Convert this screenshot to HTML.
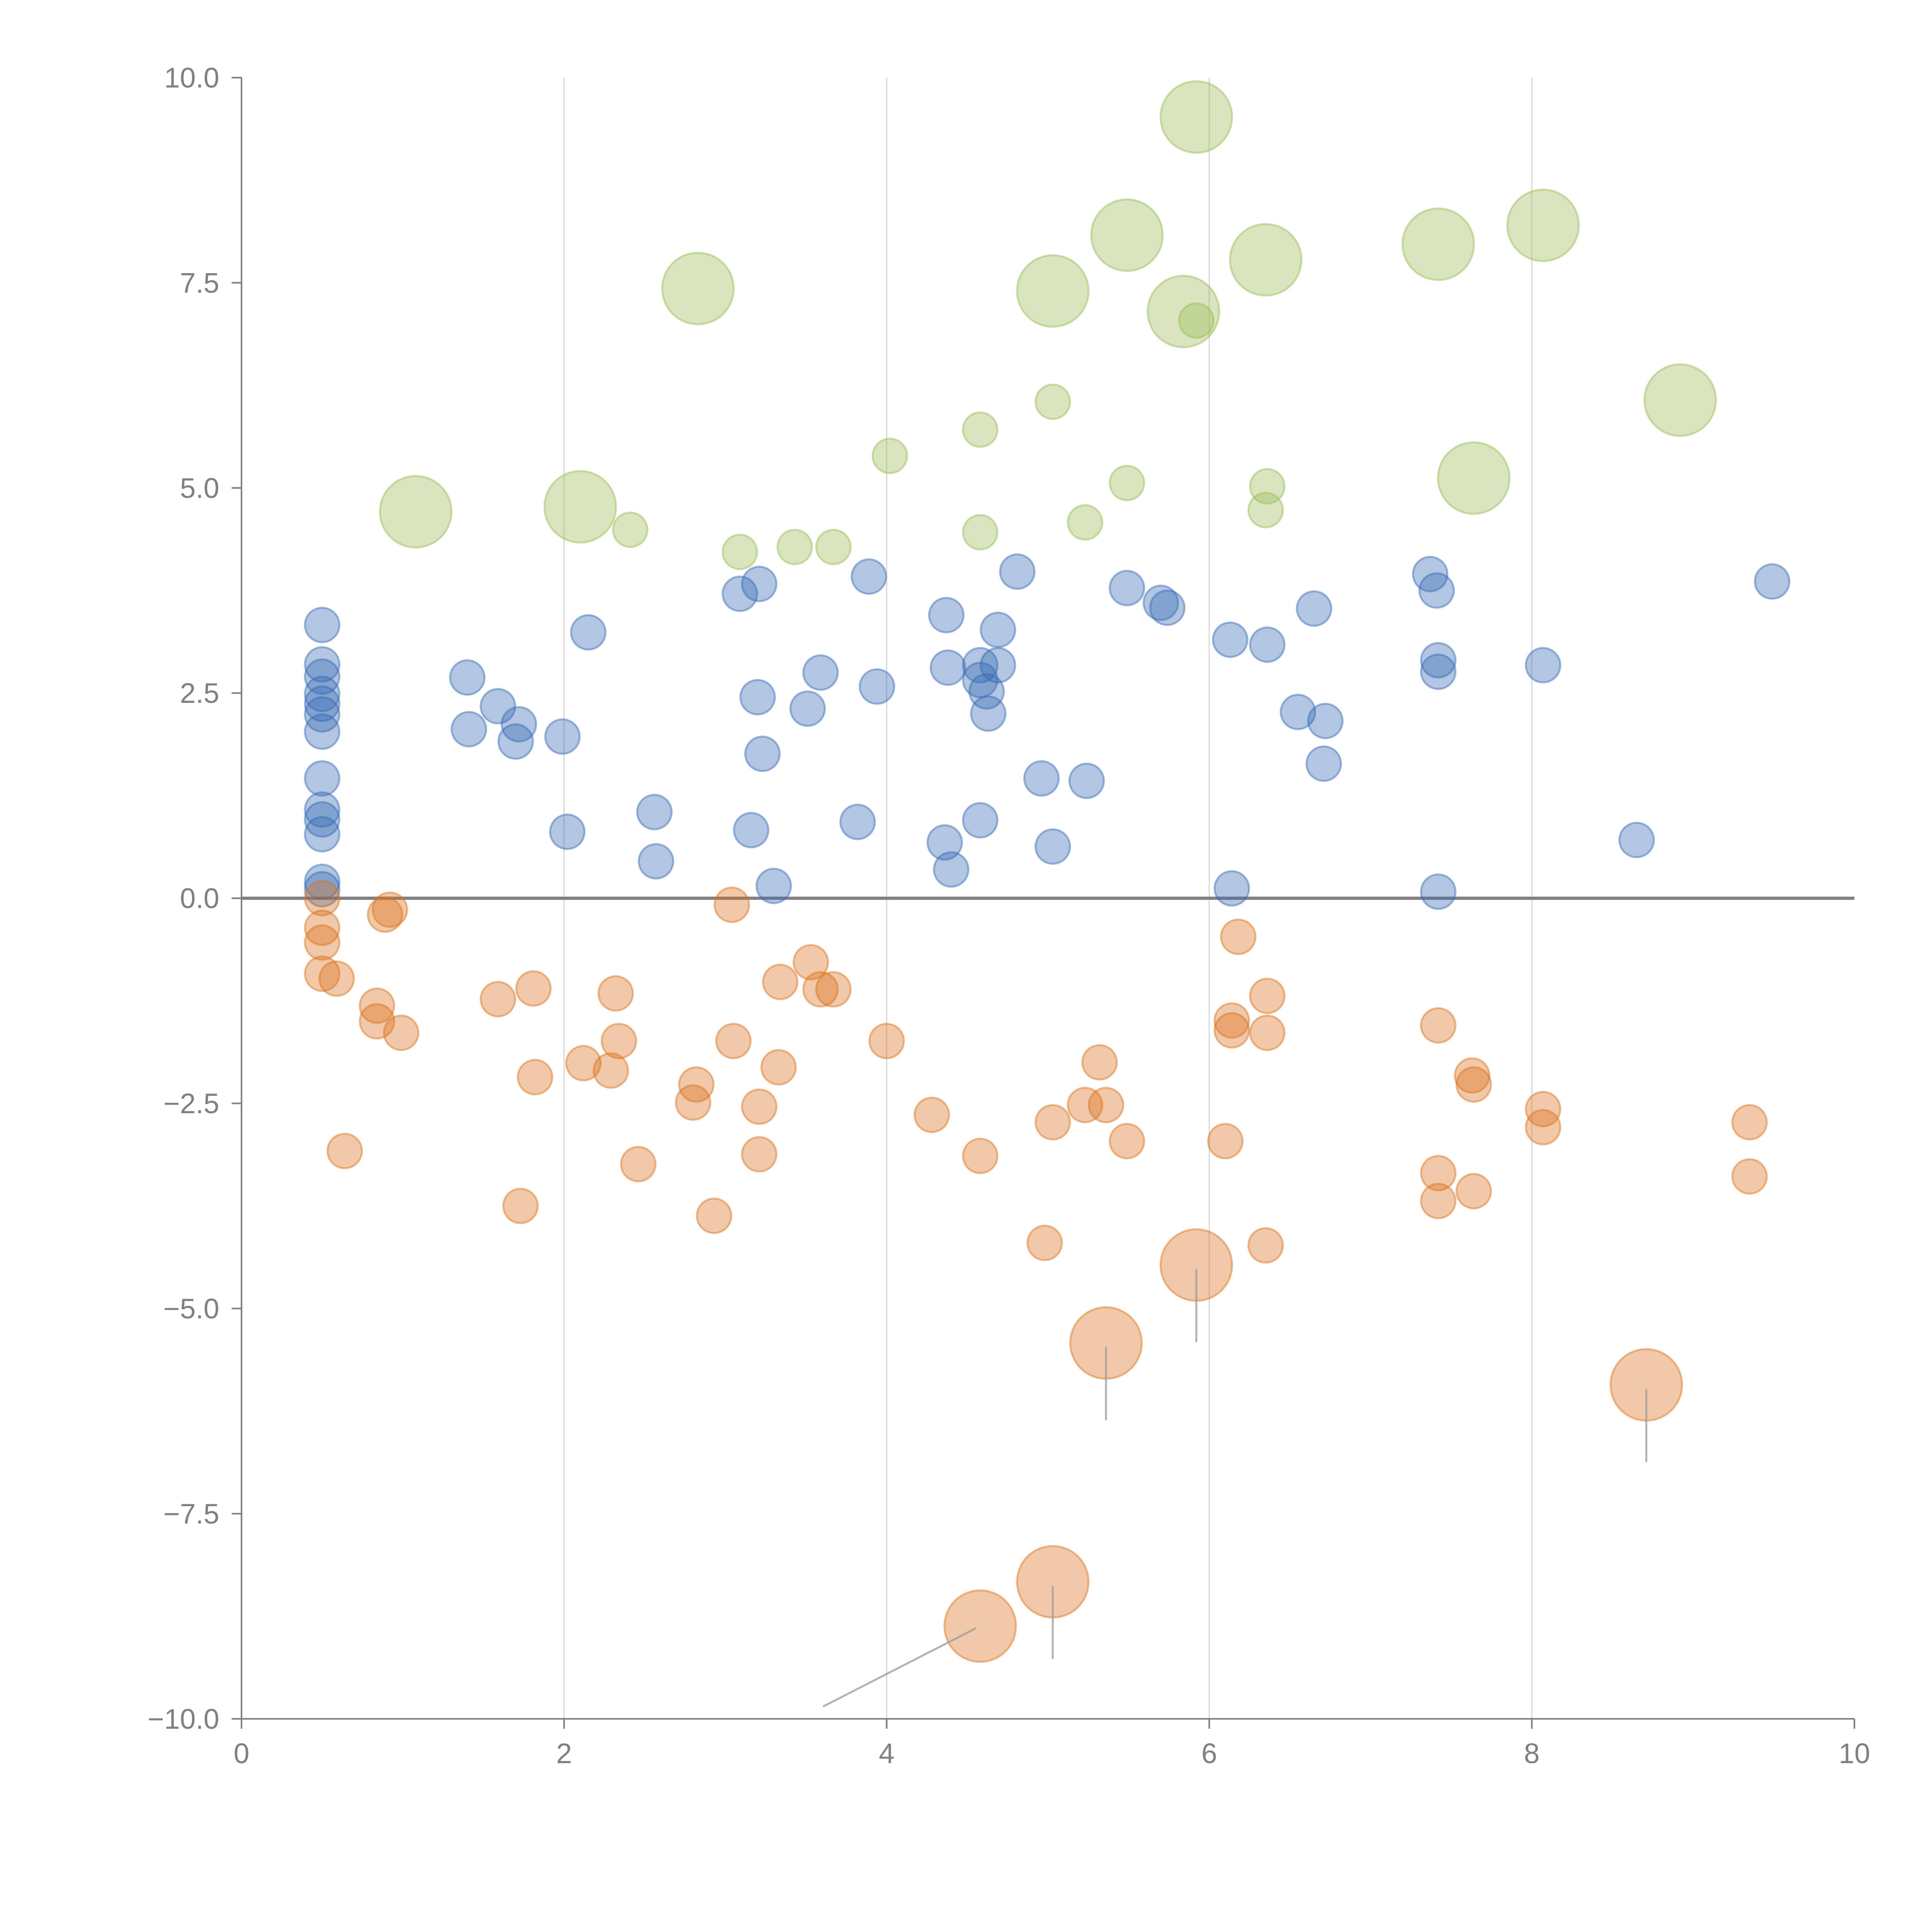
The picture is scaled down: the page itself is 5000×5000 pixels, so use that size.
<!DOCTYPE html>
<html><head><meta charset="utf-8"><style>
html,body{margin:0;padding:0;background:#fff;}
svg{display:block;}
text{font-family:"Liberation Sans",sans-serif;fill:#808080;}
</style></head><body>
<svg id="chart" width="5000" height="5000" viewBox="0 0 1568 1568" xmlns="http://www.w3.org/2000/svg">
<g id="grid"></g>
<g id="axes"></g>
<g id="marks"></g>
<g id="annot"></g>
</svg>
<script>
const xTicks=[0,2,4,6,8,10];
const xTickLabels=["0","2","4","6","8","10"];
const yTicks=[-10,-7.5,-5,-2.5,0,2.5,5,7.5,10];
const yTickLabels=["\u221210.0","\u22127.5","\u22125.0","\u22122.5","0.0","2.5","5.0","7.5","10.0"];

const blueX=[0.50,0.50,0.50,0.50,0.50,0.50,0.50,0.50,0.50,0.50,0.50,0.50,0.50,1.40,1.41,1.59,1.72,1.70,1.99,2.02,2.15,2.56,2.57,3.09,3.21,3.20,3.23,3.16,3.30,3.51,3.59,3.82,3.89,3.94,4.37,4.38,4.36,4.40,4.58,4.58,4.62,4.63,4.69,4.69,4.58,4.81,4.96,5.03,5.24,5.49,5.70,5.74,6.13,6.14,6.36,6.55,6.65,6.72,6.71,7.37,7.41,7.42,7.42,7.42,8.07,8.65,9.49];
const blueY=[3.33,2.85,2.70,2.49,2.37,2.24,2.03,1.46,1.08,0.96,0.78,0.20,0.11,2.69,2.06,2.34,2.12,1.91,1.97,0.81,3.24,1.05,0.45,3.71,3.83,2.45,1.76,0.83,0.15,2.31,2.75,0.93,3.92,2.58,3.45,2.81,0.68,0.35,2.84,2.66,2.52,2.25,3.27,2.84,0.95,3.98,1.46,0.63,1.43,3.78,3.60,3.54,3.15,0.12,3.09,2.27,3.53,2.16,1.64,3.95,3.75,2.90,2.76,0.08,2.84,0.71,3.86];

const orangeX=[0.50,0.50,0.50,0.50,0.59,0.89,0.92,0.84,0.84,0.99,0.64,1.59,1.81,1.82,1.73,2.12,2.29,2.32,2.34,2.46,2.82,2.80,2.93,3.04,3.05,3.21,3.21,3.33,3.34,3.53,3.59,3.67,4.00,4.28,4.58,4.98,5.03,5.23,5.32,5.36,5.49,6.10,6.14,6.14,6.18,6.36,6.36,6.35,7.42,7.42,7.42,7.63,7.64,7.64,8.07,8.07,9.35,9.35,5.92,5.36,8.71,5.03,4.58];
const orangeY=[0,-0.36,-0.54,-0.92,-0.98,-0.20,-0.14,-1.31,-1.50,-1.64,-3.08,-1.23,-1.10,-2.18,-3.75,-2.01,-2.10,-1.16,-1.74,-3.24,-2.27,-2.49,-3.87,-0.08,-1.74,-2.54,-3.12,-2.06,-1.02,-0.78,-1.11,-1.11,-1.74,-2.64,-3.14,-4.20,-2.73,-2.52,-2.00,-2.52,-2.96,-2.96,-1.49,-1.61,-0.47,-1.19,-1.64,-4.23,-1.55,-3.35,-3.69,-2.16,-2.27,-3.57,-2.57,-2.79,-2.73,-3.39,-4.47,-5.42,-5.93,-8.33,-8.87];
const orangeSize=[1,1,1,1,1,1,1,1,1,1,1,1,1,1,1,1,1,1,1,1,1,1,1,1,1,1,1,1,1,1,1,1,1,1,1,1,1,1,1,1,1,1,1,1,1,1,1,1,1,1,1,1,1,1,1,1,1,1,4.3,4.3,4.3,4.3,4.3];

const greenX=[2.41,3.09,3.43,3.67,4.02,4.58,4.58,5.03,5.23,5.49,6.36,6.35,5.92,5.92,2.83,5.49,6.35,5.03,5.84,7.42,8.07,8.92,7.64,1.08,2.10];
const greenY=[4.49,4.22,4.28,4.28,5.39,5.71,4.46,6.05,4.58,5.06,5.02,4.73,7.04,9.52,7.43,8.08,7.78,7.40,7.15,7.97,8.20,6.07,5.12,4.71,4.77];
const greenSize=[1,1,1,1,1,1,1,1,1,1,1,1,1,4.3,4.3,4.3,4.3,4.3,4.3,4.3,4.3,4.3,4.3,4.3,4.3];

const NS="http://www.w3.org/2000/svg";
const X0=196,X1=1505,Y0=1395,Y1=63;
function sx(v){return X0+(v-0)/(10-0)*(X1-X0);}
function sy(v){return Y0-(v+10)/20*(Y0-Y1);}
function sr(s){return 14*Math.sqrt(s);}
function mk(tag,attrs,parent){const e=document.createElementNS(NS,tag);for(const k in attrs)e.setAttribute(k,attrs[k]);parent.appendChild(e);return e;}
const grid=document.getElementById('grid'),axes=document.getElementById('axes'),marks=document.getElementById('marks'),annot=document.getElementById('annot');

xTicks.forEach((t,i)=>{
  if(t>0&&t<10){const g=mk('line',{x1:sx(t),x2:sx(t),y1:Y1,y2:Y0,stroke:'#d9d9d9','stroke-width':1},grid);
  
  }
  const tk=mk('line',{x1:sx(t),x2:sx(t),y1:Y0,y2:Y0+8,stroke:'#808080','stroke-width':1.3},axes);
  
  
  const lb=mk('text',{x:sx(t),y:Y0+36,'text-anchor':'middle','font-size':23},axes);
  lb.textContent=xTickLabels[i];
  
  
});
yTicks.forEach((t,i)=>{
  const tk=mk('line',{x1:X0-8,x2:X0,y1:sy(t),y2:sy(t),stroke:'#808080','stroke-width':1.3},axes);
  
  
  const lb=mk('text',{x:X0-18,y:sy(t)+8,'text-anchor':'end','font-size':23},axes);
  lb.textContent=yTickLabels[i];
  
  
});
const xa=mk('line',{x1:X0,x2:X1,y1:Y0,y2:Y0,stroke:'#808080','stroke-width':1.3},axes);


const ya=mk('line',{x1:X0,x2:X0,y1:Y1,y2:Y0,stroke:'#808080','stroke-width':1.3},axes);



function series(xs,ys,sizes,color,name){
  xs.forEach((x,i)=>{
    const c=mk('circle',{cx:sx(x),cy:sy(ys[i]),r:sr(sizes?sizes[i]:1),fill:color,'fill-opacity':0.38,stroke:color,'stroke-opacity':0.45,'stroke-width':1.6},marks);
    
    
  });
}
series(blueX,blueY,null,'#3469b4','blue-bubble');
series(orangeX,orangeY,orangeSize,'#d9701b','orange-bubble');
series(greenX,greenY,greenSize,'#98bb55','green-bubble');

const zl=mk('line',{x1:X0,x2:X1,y1:sy(0),y2:sy(0),stroke:'#808080','stroke-width':2.6},axes);



for(let k=0;k<5;k++){
  const i=58+k;const cx=sx(orangeX[i]),cy=sy(orangeY[i]);
  let x2,y2;
  if(k<4){x2=cx;y2=cy+62;}else{x2=cx-127;y2=cy+65;}
  const l=mk('line',{x1:k<4?cx:cx-4,y1:k<4?cy+4:cy+2,x2:x2,y2:y2,stroke:'#999','stroke-opacity':0.75,'stroke-width':1.6,'stroke-linecap':'round'},annot);
  
  
}
</script>
</body></html>
